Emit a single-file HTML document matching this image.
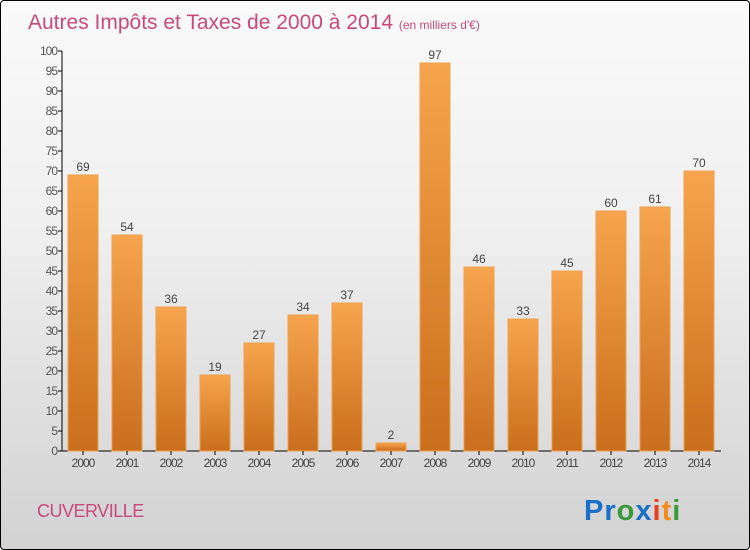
<!DOCTYPE html>
<html><head><meta charset="utf-8"><style>
body{margin:0;}
#wrap{position:relative;width:748px;height:548px;border:1px solid #000;border-radius:4px;overflow:hidden;background:linear-gradient(#fafafa 0%,#f0f0f0 40%,#d2d2d2 100%);font-family:"Liberation Sans",sans-serif;}
svg{position:absolute;left:0;top:0;}
</style></head><body>
<div id="wrap">
<svg id="c" width="750" height="550">
<defs><linearGradient id="g" x1="0" y1="0" x2="0" y2="1"><stop offset="0" stop-color="#f7a44e"/><stop offset="1" stop-color="#c96e1c"/></linearGradient></defs>
<text x="27" y="28" font-size="21" fill="#c8497a">Autres Impôts et Taxes de 2000 à 2014 <tspan font-size="12">(en milliers d'€)</tspan></text>
<text x="36" y="516" font-size="18" fill="#c8497a" letter-spacing="-0.5">CUVERVILLE</text>
<text x="583" y="519" font-size="29" font-weight="bold" letter-spacing="1"><tspan fill="#1a6fc6">Pr</tspan><tspan fill="#3a9a3a">o</tspan><tspan fill="#1a6fc6">x</tspan><tspan fill="#e8401c">i</tspan><tspan fill="#f28c1c">t</tspan><tspan fill="#3a9a3a">i</tspan></text>
</svg>
</div>
<script>
const years=["2000","2001","2002","2003","2004","2005","2006","2007","2008","2009","2010","2011","2012","2013","2014"];
const values=[69,54,36,19,27,34,37,2,97,46,33,45,60,61,70];
const yTicks=[0,5,10,15,20,25,30,35,40,45,50,55,60,65,70,75,80,85,90,95,100];
const svg=document.getElementById('c');
const NS='http://www.w3.org/2000/svg';
const y=v=>450-v*4;
const x=i=>82+i*44;
function mk(t,a){const e=document.createElementNS(NS,t);for(const k in a)e.setAttribute(k,a[k]);svg.appendChild(e);return e;}
const ax=mk('line',{x1:61,y1:50,x2:61,y2:450,stroke:'#000'});


const bx=mk('line',{x1:61,y1:450,x2:720,y2:450,stroke:'#000'});


yTicks.forEach(v=>{
 const l=mk('line',{x1:57,y1:y(v),x2:61,y2:y(v),stroke:'#000'});
 
 
 const t=mk('text',{x:56,y:y(v)+4,'font-size':12,fill:'#555','text-anchor':'end','letter-spacing':'-1'});
 t.textContent=v;
 
 
});
years.forEach((yr,i)=>{
 const v=values[i];
 const r=mk('rect',{x:x(i)-15,y:y(v),width:30,height:v*4,fill:'url(#g)',stroke:'#f0a050','stroke-width':1});
 
 
 const l=mk('text',{x:x(i),y:y(v)-4,'font-size':12,fill:'#444','text-anchor':'middle'});
 l.textContent=v;
 
 
 const tk=mk('line',{x1:x(i),y1:450,x2:x(i),y2:454,stroke:'#000'});
 
 
 const t=mk('text',{x:x(i),y:466,'font-size':12,fill:'#444','text-anchor':'middle','letter-spacing':'-1'});
 t.textContent=yr;
 
 
});
</script>
</body></html>
